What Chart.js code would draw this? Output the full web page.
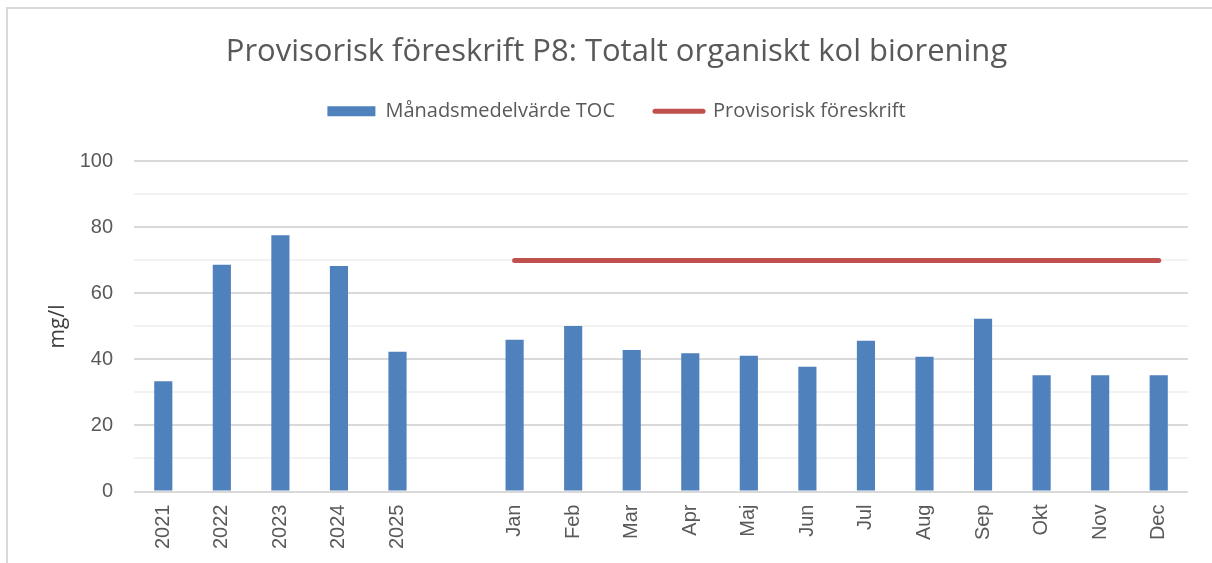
<!DOCTYPE html>
<html>
<head>
<meta charset="utf-8">
<script src="https://cdn.jsdelivr.net/npm/chart.js@4"></script>
<style>
  html, body { margin: 0; padding: 0; background: #fff; }
  #wrap { position: relative; width: 1212px; height: 563px; overflow: hidden; }
  #frame { position: absolute; left: 6px; top: 7px; width: 1220px; height: 600px;
           border-left: 2px solid #d9d9d9; border-top: 2px solid #d9d9d9; }
  canvas { position: absolute; left: 0; top: 0; }
</style>
</head>
<body>
<div id="wrap">
  <div id="frame"></div>
  <canvas id="tocChart" width="1212" height="563"></canvas>
</div>
<script>
// Data
const categories = ['2021','2022','2023','2024','2025','','Jan','Feb','Mar','Apr','Maj','Jun','Jul','Aug','Sep','Okt','Nov','Dec'];
const tocValues = [33.4, 68.7, 77.6, 68.3, 42.3, null, 46.0, 50.1, 42.9, 41.9, 41.1, 37.8, 45.7, 40.8, 52.3, 35.2, 35.2, 35.2];
const limitValues = [null, null, null, null, null, null, 70, 70, 70, 70, 70, 70, 70, 70, 70, 70, 70, 70];
const yTicks = [0, 20, 40, 60, 80, 100];

const blue = '#4F81BD';
const red = '#C0504D';
const grey = '#595959';

new Chart(document.getElementById('tocChart'), {
  type: 'bar',
  data: {
    labels: categories,
    datasets: [
      {
        type: 'line',
        label: 'Provisorisk föreskrift',
        data: limitValues,
        borderColor: red,
        backgroundColor: red,
        borderWidth: 5,
        borderCapStyle: 'round',
        pointRadius: 0,
        spanGaps: false,
        order: 0
      },
      {
        label: 'Månadsmedelvärde TOC',
        data: tocValues,
        backgroundColor: blue,
        barPercentage: 0.31,
        categoryPercentage: 1,
        order: 1
      }
    ]
  },
  options: {
    responsive: false,
    animation: false,
    layout: { padding: { left: 45, right: 24, top: 0, bottom: 9 } },
    plugins: {
      title: {
        display: true,
        text: 'Provisorisk föreskrift P8: Totalt organiskt kol biorening',
        color: grey,
        font: { family: 'Open Sans', size: 31, weight: 'normal' },
        padding: { top: 34, bottom: -10 }
      },
      // empty spacer between legend and plot
      subtitle: {
        display: true,
        text: '',
        weight: 500,
        font: { size: 1 },
        padding: { top: 15, bottom: 14 }
      },
      legend: {
        position: 'top',
        labels: {
          color: grey,
          font: { family: 'Open Sans', size: 20 },
          usePointStyle: true,
          pointStyleWidth: 48,
          boxHeight: 10,
          padding: 40,
          generateLabels: () => [
            { text: 'Månadsmedelvärde TOC', fillStyle: blue, strokeStyle: blue, lineWidth: 0, pointStyle: 'rect', fontColor: grey, datasetIndex: 1 },
            { text: 'Provisorisk föreskrift', fillStyle: red, strokeStyle: red, lineWidth: 5, lineCap: 'round', pointStyle: 'line', fontColor: grey, datasetIndex: 0 }
          ]
        }
      },
      tooltip: { enabled: false }
    },
    scales: {
      x: {
        grid: { display: false },
        border: { display: false },
        ticks: {
          color: grey,
          font: { family: 'Liberation Sans', size: 20 },
          minRotation: 90,
          maxRotation: 90,
          autoSkip: false,
          padding: 5
        }
      },
      y: {
        min: 0,
        max: 100,
        afterFit: (scale) => { scale.width = 89; },
        ticks: {
          stepSize: 10,
          color: grey,
          font: { family: 'Liberation Sans', size: 20 },
          padding: 21,
          callback: (v) => yTicks.includes(v) ? v : ''
        },
        grid: {
          drawTicks: false,
          lineWidth: 2,
          color: (ctx) => yTicks.includes(ctx.tick.value) ? '#d9d9d9' : '#f2f2f2'
        },
        border: { display: false },
        title: {
          display: true,
          text: 'mg/l',
          color: '#404040',
          font: { family: 'Open Sans', size: 21 },
          padding: 0
        }
      }
    }
  }
});
</script>
</body>
</html>
